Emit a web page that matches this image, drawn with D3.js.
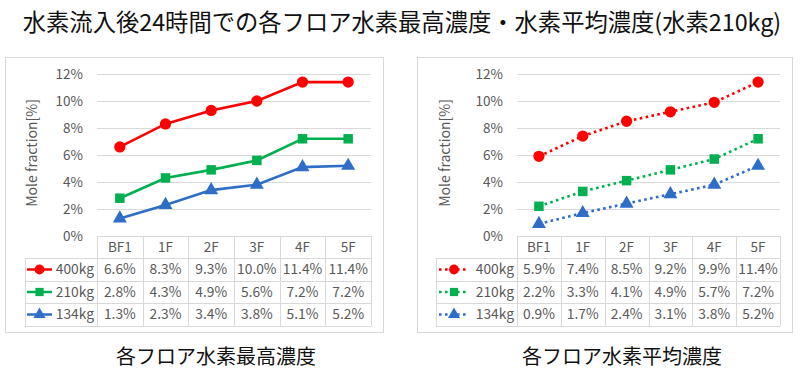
<!DOCTYPE html>
<html>
<head>
<meta charset="utf-8">
<script src="https://cdn.jsdelivr.net/npm/d3@7"></script>
<style>
  body { margin: 0; background: #fff; }
  svg text { font-family: "Noto Sans CJK JP", "Noto Sans", sans-serif; }
</style>
</head>
<body>
<svg id="viz"></svg>
<script>
const width = 800, height = 389;
const svg = d3.select("#viz").attr("width", width).attr("height", height);

// data
const floors = ["BF1", "1F", "2F", "3F", "4F", "5F"];
const seriesNames = ["400kg", "210kg", "134kg"];
const yTicks = [0, 2, 4, 6, 8, 10, 12];

const max400 = [6.6, 8.3, 9.3, 10.0, 11.4, 11.4];
const max210 = [2.8, 4.3, 4.9, 5.6, 7.2, 7.2];
const max134 = [1.3, 2.3, 3.4, 3.8, 5.1, 5.2];

const avg400 = [5.9, 7.4, 8.5, 9.2, 9.9, 11.4];
const avg210 = [2.2, 3.3, 4.1, 4.9, 5.7, 7.2];
const avg134 = [0.9, 1.7, 2.4, 3.1, 3.8, 5.2];

const colors = ["#ff0000", "#00b050", "#2f6ec6"];
const shapes = [d3.symbolCircle, d3.symbolSquare, d3.symbolTriangle];
const symSizes = [100, 90, 85];
const grid = "#d9d9d9";
const txt = "#595959";

svg.append("text")
  .attr("x", 402).attr("y", 31)
  .attr("text-anchor", "middle")
  .attr("font-size", 23.3)
  .attr("fill", "#111")
  .text("水素流入後24時間での各フロア水素最高濃度・水素平均濃度(水素210kg)");

function drawPanel(p) {
  const g = svg.append("g");

  // chart frame
  g.append("rect")
    .attr("x", p.frame[0] + 0.5).attr("y", 57.5)
    .attr("width", p.frame[1] - p.frame[0]).attr("height", 275)
    .attr("fill", "none").attr("stroke", grid);

  const x = d3.scaleBand().domain(floors).range([p.x0, p.x1]);
  const y = d3.scaleLinear().domain([0, 12]).range([236, 74]);

  // gridlines + tick labels
  const yAxis = d3.axisLeft(y).tickValues(yTicks)
    .tickFormat(d => d + "%").tickSize(-(p.x1 - p.x0)).tickPadding(14);
  const ax = g.append("g").attr("transform", `translate(${p.x0},0)`).call(yAxis);
  ax.select(".domain").remove();
  ax.selectAll("line").attr("stroke", grid).attr("shape-rendering", "crispEdges");
  ax.selectAll("text").attr("fill", txt).attr("font-size", 13.5)
    .attr("font-family", "'Noto Sans CJK JP', sans-serif");

  g.append("text")
    .attr("transform", `translate(${p.titleX},153) rotate(-90)`)
    .attr("text-anchor", "middle").attr("dy", "0.35em")
    .attr("font-size", 14).attr("fill", txt)
    .text("Mole fraction[%]");

  // data table
  const rowY = [236, 258, 281, 303, 326];
  const tbl = g.append("g").attr("shape-rendering", "crispEdges")
    .attr("stroke", grid).attr("fill", "none");
  floors.forEach(f => {
    tbl.append("line").attr("x1", x(f) + 0.5).attr("x2", x(f) + 0.5)
      .attr("y1", rowY[0]).attr("y2", rowY[4]);
  });
  tbl.append("line").attr("x1", p.x1 + 0.5).attr("x2", p.x1 + 0.5)
    .attr("y1", rowY[0]).attr("y2", rowY[4]);
  tbl.append("line").attr("x1", p.legX + 0.5).attr("x2", p.legX + 0.5)
    .attr("y1", rowY[1]).attr("y2", rowY[4]);
  rowY.slice(1).forEach(ry => {
    tbl.append("line").attr("x1", p.legX).attr("x2", p.x1)
      .attr("y1", ry + 0.5).attr("y2", ry + 0.5);
  });

  g.selectAll(".cat").data(floors).join("text")
    .attr("x", d => x(d) + x.bandwidth() / 2).attr("y", (rowY[0] + rowY[1]) / 2)
    .attr("dy", "0.35em").attr("text-anchor", "middle")
    .attr("font-size", 13.5).attr("fill", txt).text(d => d);

  p.series.forEach((vals, si) => {
    const cy = (rowY[si + 1] + rowY[si + 2]) / 2;
    g.selectAll(null).data(vals).join("text")
      .attr("x", (d, i) => x(floors[i]) + x.bandwidth() / 2).attr("y", cy)
      .attr("dy", "0.35em").attr("text-anchor", "middle")
      .attr("font-size", 13.8).attr("fill", txt).text(d => d.toFixed(1) + "%");

    // legend key
    g.append("line")
      .attr("x1", p.keyX[0]).attr("x2", p.keyX[1]).attr("y1", cy).attr("y2", cy)
      .attr("stroke", colors[si]).attr("stroke-width", 2.5)
      .attr("stroke-dasharray", p.dash);
    g.append("path")
      .attr("d", d3.symbol(shapes[si], symSizes[si] * 0.75)())
      .attr("transform", `translate(${(p.keyX[0] + p.keyX[1]) / 2},${cy})`)
      .attr("fill", colors[si]);
    g.append("text")
      .attr("x", p.labelX).attr("y", cy).attr("dy", "0.35em")
      .attr("text-anchor", "end").attr("font-size", 13.8).attr("fill", txt)
      .text(seriesNames[si]);

    // line + markers
    const line = d3.line()
      .x((d, i) => x(floors[i]) + x.bandwidth() / 2)
      .y(d => y(d));
    g.append("path").datum(vals)
      .attr("d", line).attr("fill", "none")
      .attr("stroke", colors[si]).attr("stroke-width", 2.6)
      .attr("stroke-dasharray", p.dash);
    g.selectAll(null).data(vals).join("path")
      .attr("d", d3.symbol(shapes[si], symSizes[si])())
      .attr("transform", (d, i) => `translate(${x(floors[i]) + x.bandwidth() / 2},${y(d)})`)
      .attr("fill", colors[si]);
  });

  svg.append("text")
    .attr("x", p.subX).attr("y", 364)
    .attr("text-anchor", "middle").attr("font-size", 20).attr("fill", "#111")
    .text(p.subtitle);
}

drawPanel({
  frame: [5, 383], x0: 97, x1: 371, titleX: 32, legX: 25,
  keyX: [27, 52], labelX: 94, dash: null,
  series: [max400, max210, max134],
  subX: 216, subtitle: "各フロア水素最高濃度"
});

drawPanel({
  frame: [417, 792], x0: 517, x1: 780, titleX: 445, legX: 436,
  keyX: [439, 469], labelX: 514, dash: "2.6 3.4",
  series: [avg400, avg210, avg134],
  subX: 622, subtitle: "各フロア水素平均濃度"
});
</script>
</body>
</html>
